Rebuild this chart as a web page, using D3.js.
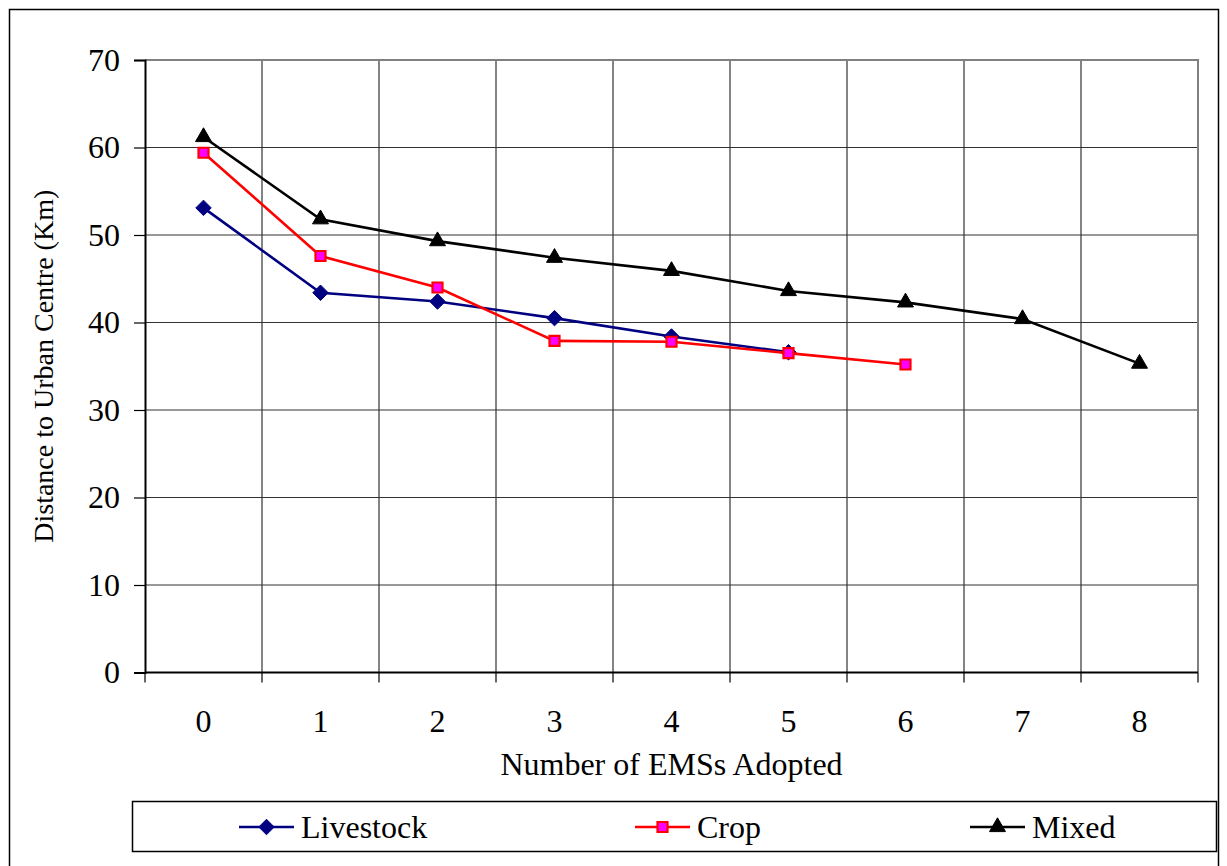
<!DOCTYPE html>
<html>
<head>
<meta charset="utf-8">
<script src="https://cdn.jsdelivr.net/npm/d3@7"></script>
<style>
  body { margin: 0; background: #fff; }
  svg text { font-family: "Times New Roman", "Liberation Serif", "DejaVu Serif", serif !important; fill: #000; }
</style>
</head>
<body>
<svg width="1227" height="866"></svg>
<script>
var categories = [0, 1, 2, 3, 4, 5, 6, 7, 8];
var livestock = [53.1, 43.4, 42.4, 40.5, 38.4, 36.6];
var crop = [59.4, 47.6, 44.0, 37.9, 37.8, 36.5, 35.2];
var mixed = [61.2, 51.8, 49.3, 47.4, 45.9, 43.6, 42.3, 40.4, 35.3];
var yTicks = [0, 10, 20, 30, 40, 50, 60, 70];

var width = 1227, height = 866,
    margin = {top: 60, right: 29, bottom: 193.5, left: 145};

var serif = "'Times New Roman', 'Liberation Serif', 'DejaVu Serif', serif";

var svg = d3.select("svg");

// outer chart border
svg.append("rect")
    .attr("x", 9.5).attr("y", 9.5)
    .attr("width", 1209).attr("height", 870)
    .attr("fill", "none").attr("stroke", "#000").attr("stroke-width", 1.5);

var scX = d3.scaleBand()
    .domain(categories)
    .range([margin.left, width - margin.right]);

var scY = d3.scaleLinear()
    .domain([0, 70])
    .range([height - margin.bottom, margin.top]);

var x0 = scX.range()[0], x1 = scX.range()[1];
var edges = categories.map(d => scX(d)).concat([x1]);

// gridlines
var grid = svg.append("g").attr("stroke", "#333").attr("stroke-width", 1.2);
grid.selectAll("line.h")
    .data(yTicks.slice(1, -1)).enter()
    .append("line")
    .attr("x1", x0).attr("x2", x1)
    .attr("y1", d => scY(d)).attr("y2", d => scY(d));
grid.selectAll("line.v")
    .data(edges.slice(1, -1)).enter()
    .append("line")
    .attr("x1", d => d).attr("x2", d => d)
    .attr("y1", scY(0)).attr("y2", scY(70));

// plot area frame top / right (gray)
svg.append("path")
    .attr("d", "M" + x0 + "," + scY(70) + "H" + x1 + "V" + scY(0))
    .attr("fill", "none").attr("stroke", "#808080").attr("stroke-width", 2);

// y axis
var yAxis = svg.append("g")
    .attr("transform", "translate(" + x0 + ",0)")
    .call(d3.axisLeft(scY).tickValues(yTicks).tickSize(11).tickPadding(14));
yAxis.attr("font-family", serif).attr("font-size", 32);
yAxis.select(".domain").attr("stroke", "#000").attr("stroke-width", 2);
yAxis.selectAll(".tick line").attr("stroke", "#000").attr("stroke-width", 1.2);
yAxis.selectAll(".tick text").attr("fill", "#000");

// x axis: ticks at band edges, labels at band centres
var xAxis = svg.append("g").attr("transform", "translate(0," + scY(0) + ")")
    .attr("font-family", serif).attr("font-size", 32);
xAxis.append("line")
    .attr("x1", x0).attr("x2", x1)
    .attr("stroke", "#000").attr("stroke-width", 2);
xAxis.selectAll("line.tk")
    .data(edges).enter()
    .append("line")
    .attr("x1", d => d).attr("x2", d => d)
    .attr("y1", 0).attr("y2", 10)
    .attr("stroke", "#000").attr("stroke-width", 1.2);
xAxis.selectAll("text")
    .data(categories).enter()
    .append("text")
    .attr("x", d => scX(d) + scX.bandwidth() / 2)
    .attr("y", 59)
    .attr("text-anchor", "middle")
    .text(d => d);

// axis titles
svg.append("text")
    .attr("x", (x0 + x1) / 2).attr("y", 775)
    .attr("text-anchor", "middle")
    .attr("font-family", serif).attr("font-size", 32)
    .text("Number of EMSs Adopted");

svg.append("text")
    .attr("transform", "translate(53," + (scY(35)) + ") rotate(-90)")
    .attr("text-anchor", "middle")
    .attr("font-family", serif).attr("font-size", 28)
    .text("Distance to Urban Centre (Km)");

// series
var diamond = {
    draw: function(ctx, size) {
        var r = Math.sqrt(size / 2);
        ctx.moveTo(0, -r); ctx.lineTo(r, 0); ctx.lineTo(0, r); ctx.lineTo(-r, 0); ctx.closePath();
    }
};

var series = [
    {name: "Livestock", values: livestock, color: "#000080", symbol: diamond, size: 120, fill: "#000080", stroke: "#000080", sw: 1},
    {name: "Crop", values: crop, color: "#FF0000", symbol: d3.symbolSquare, size: 100, fill: "#FF00FF", stroke: "#FF0000", sw: 2.2},
    {name: "Mixed", values: mixed, color: "#000000", symbol: d3.symbolTriangle, size: 110, fill: "#000000", stroke: "#000000", sw: 1}
];

var lineMaker = d3.line()
    .x((d, i) => scX(categories[i]) + scX.bandwidth() / 2)
    .y(d => scY(d));

series.forEach(function(s) {
    var g = svg.append("g").attr("class", "series");
    g.append("path")
        .attr("fill", "none").attr("stroke", s.color).attr("stroke-width", 2.6)
        .attr("d", lineMaker(s.values));
    g.selectAll("path.mk")
        .data(s.values).enter()
        .append("path")
        .attr("d", d3.symbol().type(s.symbol).size(s.size))
        .attr("transform", (d, i) => "translate(" + (scX(categories[i]) + scX.bandwidth() / 2) + "," + scY(d) + ")")
        .attr("fill", s.fill).attr("stroke", s.stroke).attr("stroke-width", s.sw);
});

// legend
var legend = svg.append("g").attr("font-family", serif).attr("font-size", 32);
legend.append("rect")
    .attr("x", 132.5).attr("y", 801.5)
    .attr("width", 1084).attr("height", 50)
    .attr("fill", "#fff").attr("stroke", "#000").attr("stroke-width", 1.5);

var legendX = [239, 635, 970];
series.forEach(function(s, i) {
    var g = legend.append("g").attr("transform", "translate(" + legendX[i] + ",827)");
    g.append("line")
        .attr("x1", 0).attr("x2", 55)
        .attr("stroke", s.color).attr("stroke-width", 2.6);
    g.append("path")
        .attr("d", d3.symbol().type(s.symbol).size(s.size))
        .attr("transform", "translate(27.5,0)")
        .attr("fill", s.fill).attr("stroke", s.stroke).attr("stroke-width", s.sw);
    g.append("text")
        .attr("x", 62).attr("y", 11)
        .text(s.name);
});
</script>
</body>
</html>
